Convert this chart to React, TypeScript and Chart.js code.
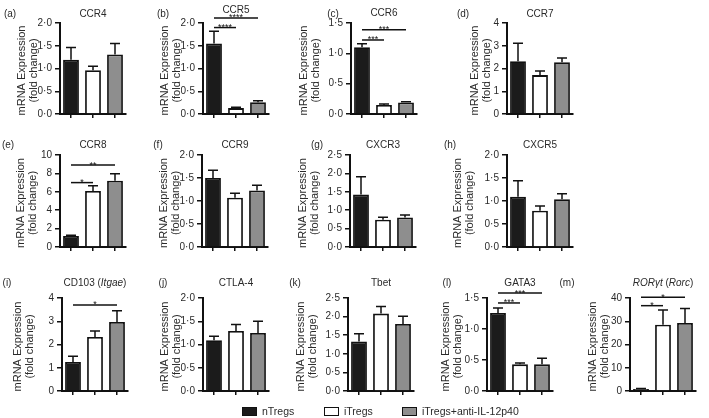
import React, { useEffect, useRef } from "react";
import { Chart, registerables } from "chart.js";
Chart.register(...registerables);

const groups = ["nTregs", "iTregs", "iTregs+anti-IL-12p40"];
const groupColors = ["#1b1b1b", "#ffffff", "#8e8e8e"];

const ccr4Mean = [1.19, 0.96, 1.31];
const ccr4Sem = [0.27, 0.09, 0.24];
const ccr5Mean = [1.55, 0.13, 0.26];
const ccr5Sem = [0.27, 0.02, 0.03];
const ccr6Mean = [1.1, 0.15, 0.19];
const ccr6Sem = [0.06, 0.015, 0.012];
const ccr7Mean = [2.32, 1.71, 2.28];
const ccr7Sem = [0.79, 0.18, 0.18];
const ccr8Mean = [1.2, 6.1, 7.2];
const ccr8Sem = [0.08, 0.55, 0.75];
const ccr9Mean = [1.5, 1.07, 1.23];
const ccr9Sem = [0.17, 0.1, 0.11];
const cxcr3Mean = [1.43, 0.74, 0.8];
const cxcr3Sem = [0.48, 0.07, 0.07];
const cxcr5Mean = [1.09, 0.79, 1.04];
const cxcr5Sem = [0.35, 0.1, 0.12];
const cd103Mean = [1.25, 2.32, 2.97];
const cd103Sem = [0.25, 0.26, 0.48];
const ctla4Mean = [1.09, 1.29, 1.25];
const ctla4Sem = [0.09, 0.14, 0.25];
const tbetMean = [1.33, 2.08, 1.8];
const tbetSem = [0.21, 0.19, 0.21];
const gata3Mean = [1.26, 0.43, 0.43];
const gata3Sem = [0.08, 0.02, 0.1];
const rorcMean = [0.9, 28.5, 29.3];
const rorcSem = [0.2, 6.3, 6.2];

// significance brackets: [from group, to group, level, label]
type Sig = [number, number, number, string];
const ccr5Sig: Sig[] = [[0, 1, 1.9, "****"], [0, 2, 2.11, "****"]];
const ccr6Sig: Sig[] = [[0, 1, 1.22, "***"], [0, 2, 1.39, "***"]];
const ccr8Sig: Sig[] = [[0, 1, 7.0, "*"], [0, 2, 8.9, "**"]];
const cd103Sig: Sig[] = [[0, 2, 3.7, "*"]];
const gata3Sig: Sig[] = [[0, 1, 1.42, "***"], [0, 2, 1.58, "***"]];
const rorcSig: Sig[] = [[0, 1, 36.7, "*"], [0, 2, 40.3, "*"]];

type Seg = [string, boolean];
interface Panel {
  letter: string;
  title: Seg[];
  mean: number[];
  sem: number[];
  max: number;
  step: number;
  decimals: number;
  sig: Sig[];
}

const panels: Panel[] = [
  { letter: "(a)", title: [["CCR4", false]], mean: ccr4Mean, sem: ccr4Sem, max: 2, step: 0.5, decimals: 1, sig: [] },
  { letter: "(b)", title: [["CCR5", false]], mean: ccr5Mean, sem: ccr5Sem, max: 2, step: 0.5, decimals: 1, sig: ccr5Sig },
  { letter: "(c)", title: [["CCR6", false]], mean: ccr6Mean, sem: ccr6Sem, max: 1.5, step: 0.5, decimals: 1, sig: ccr6Sig },
  { letter: "(d)", title: [["CCR7", false]], mean: ccr7Mean, sem: ccr7Sem, max: 4, step: 1, decimals: 0, sig: [] },
  { letter: "(e)", title: [["CCR8", false]], mean: ccr8Mean, sem: ccr8Sem, max: 10, step: 2, decimals: 0, sig: ccr8Sig },
  { letter: "(f)", title: [["CCR9", false]], mean: ccr9Mean, sem: ccr9Sem, max: 2, step: 0.5, decimals: 1, sig: [] },
  { letter: "(g)", title: [["CXCR3", false]], mean: cxcr3Mean, sem: cxcr3Sem, max: 2.5, step: 0.5, decimals: 1, sig: [] },
  { letter: "(h)", title: [["CXCR5", false]], mean: cxcr5Mean, sem: cxcr5Sem, max: 2, step: 0.5, decimals: 1, sig: [] },
  { letter: "(i)", title: [["CD103 (", false], ["Itgae", true], [")", false]], mean: cd103Mean, sem: cd103Sem, max: 4, step: 1, decimals: 0, sig: cd103Sig },
  { letter: "(j)", title: [["CTLA-4", false]], mean: ctla4Mean, sem: ctla4Sem, max: 2, step: 0.5, decimals: 1, sig: [] },
  { letter: "(k)", title: [["Tbet", false]], mean: tbetMean, sem: tbetSem, max: 2.5, step: 0.5, decimals: 1, sig: [] },
  { letter: "(l)", title: [["GATA3", false]], mean: gata3Mean, sem: gata3Sem, max: 1.5, step: 0.5, decimals: 1, sig: gata3Sig },
  { letter: "(m)", title: [["RORγt", true], [" (", false], ["Rorc", true], [")", false]], mean: rorcMean, sem: rorcSem, max: 40, step: 10, decimals: 0, sig: rorcSig },
];

// layout (pixels)
const rows = [
  { plotTop: 23, plotH: 91, titleY: 14 },
  { plotTop: 155, plotH: 92, titleY: 145 },
  { plotTop: 298, plotH: 93, titleY: 283 },
];
const places = [
  { row: 0, axisX: 60, letterX: 10, gap: 0, titleDy: 0 },
  { row: 0, axisX: 203, letterX: 163, gap: 0, titleDy: -4 },
  { row: 0, axisX: 351, letterX: 333, gap: 9, titleDy: -1 },
  { row: 0, axisX: 507, letterX: 463, gap: 2, titleDy: 0 },
  { row: 1, axisX: 60, letterX: 8, gap: 4, titleDy: 0 },
  { row: 1, axisX: 202, letterX: 158, gap: 0, titleDy: 0 },
  { row: 1, axisX: 350, letterX: 317, gap: 9, titleDy: 0 },
  { row: 1, axisX: 507, letterX: 450, gap: 11, titleDy: 0 },
  { row: 2, axisX: 62, letterX: 7, gap: 14, titleDy: 0 },
  { row: 2, axisX: 203, letterX: 163, gap: 0, titleDy: 0 },
  { row: 2, axisX: 348, letterX: 295, gap: 9, titleDy: 0 },
  { row: 2, axisX: 487, letterX: 447, gap: 3, titleDy: 0 },
  { row: 2, axisX: 630, letterX: 567, gap: 2, titleDy: 0 },
];

const FONT = '"Liberation Sans", Arial, Helvetica, sans-serif';
const TEXT = "#2a2a2a";
const INK = "#111111";
const LEFT_SPACE = 80;
const YSCALE_W = 22;
const PLOT_W = 66;
const CANVAS_W = LEFT_SPACE + PLOT_W + 4;
const TOP_SPACE = 23;
const TICK_FONT = 10;
const YTITLE_FONT = 11;

function fmt(v: number, d: number) {
  return d === 0 ? String(Math.round(v)) : v.toFixed(d).replace(".", "·");
}

function PanelChart({ p, pl }: { p: Panel; pl: (typeof places)[number] }) {
  const ref = useRef<HTMLCanvasElement>(null);
  const row = rows[pl.row];
  const left = pl.axisX - LEFT_SPACE;
  const top = row.plotTop - TOP_SPACE;
  const height = TOP_SPACE + row.plotH + 10;

  useEffect(() => {
    const extras = {
      id: "extras",
      afterDraw(chart: any) {
        const ctx = chart.ctx as CanvasRenderingContext2D;
        const ys = chart.scales.y;
        const meta = chart.getDatasetMeta(0);
        const area = chart.chartArea;
        ctx.save();
        // error bars
        ctx.strokeStyle = INK;
        ctx.lineWidth = 1.5;
        p.mean.forEach((m, i) => {
          const bar = meta.data[i];
          const x = bar.x;
          const y0 = ys.getPixelForValue(m);
          const y1 = ys.getPixelForValue(m + p.sem[i]);
          ctx.beginPath();
          ctx.moveTo(x, y0);
          ctx.lineTo(x, y1);
          ctx.moveTo(x - 5, y1);
          ctx.lineTo(x + 5, y1);
          ctx.stroke();
        });
        // significance
        p.sig.forEach(([a, b, lvl, lab]) => {
          const x1 = meta.data[a].x;
          const x2 = meta.data[b].x;
          const y = ys.getPixelForValue(lvl);
          ctx.beginPath();
          ctx.moveTo(x1, y);
          ctx.lineTo(x2, y);
          ctx.stroke();
          ctx.fillStyle = INK;
          ctx.font = `9px ${FONT}`;
          ctx.textAlign = "center";
          ctx.textBaseline = "alphabetic";
          ctx.fillText(lab, (x1 + x2) / 2, y + 2.5);
        });
        // panel letter
        ctx.fillStyle = TEXT;
        ctx.textBaseline = "middle";
        ctx.textAlign = "center";
        ctx.font = `10px ${FONT}`;
        ctx.fillText(p.letter, pl.letterX - left, row.titleY - top);
        // title with italic segments
        const widths = p.title.map(([t, it]) => {
          ctx.font = `${it ? "italic " : ""}10px ${FONT}`;
          return ctx.measureText(t).width;
        });
        const total = widths.reduce((s, w) => s + w, 0);
        let tx = (area.left + area.right) / 2 - total / 2;
        ctx.textAlign = "left";
        p.title.forEach(([t, it], k) => {
          ctx.font = `${it ? "italic " : ""}10px ${FONT}`;
          ctx.fillText(t, tx, row.titleY - top + pl.titleDy);
          tx += widths[k];
        });
        // y-axis title placed left of the widest tick label
        ctx.font = `${TICK_FONT}px ${FONT}`;
        const labW = Math.max(...ys.ticks.map((t: any) => ctx.measureText(fmt(t.value, p.decimals)).width));
        const x2 = area.left - 8 - labW - 4 - pl.gap;
        const x1 = x2 - 12;
        const cy = (area.top + area.bottom) / 2 + 2;
        ctx.font = `${YTITLE_FONT}px ${FONT}`;
        ctx.textAlign = "center";
        [["mRNA Expression", x1], ["(fold change)", x2]].forEach(([t, x]: any) => {
          ctx.save();
          ctx.translate(x, cy);
          ctx.rotate(-Math.PI / 2);
          ctx.fillText(t, 0, 0);
          ctx.restore();
        });
        ctx.restore();
      },
    };

    const chart = new Chart(ref.current!, {
      type: "bar",
      data: {
        labels: groups,
        datasets: [
          {
            data: p.mean,
            backgroundColor: groupColors,
            borderColor: INK,
            borderWidth: 1.8,
            barPercentage: 0.72,
            categoryPercentage: 1,
          },
        ],
      },
      options: {
        responsive: false,
        animation: false,
        events: [],
        layout: { padding: { left: LEFT_SPACE - YSCALE_W, top: TOP_SPACE, right: CANVAS_W - LEFT_SPACE - PLOT_W, bottom: 2 } },
        plugins: { legend: { display: false }, tooltip: { enabled: false }, title: { display: false } },
        scales: {
          x: {
            grid: { display: true, offset: false, drawOnChartArea: false, drawTicks: true, tickLength: 4, lineWidth: 1.5, tickWidth: 1.5, tickColor: INK, color: INK },
            border: { display: true, color: INK, width: 2 },
            ticks: { display: false },
            afterFit: (s: any) => { s.height = 8; },
          },
          y: {
            min: 0,
            max: p.max,
            ticks: {
              stepSize: p.step,
              color: TEXT,
              padding: 3,
              font: { family: FONT, size: TICK_FONT },
              callback: (v: any) => fmt(Number(v), p.decimals),
            },
            grid: { display: true, drawOnChartArea: false, drawTicks: true, tickLength: 5, lineWidth: 1.5, tickWidth: 1.5, tickColor: INK, color: INK },
            border: { display: true, color: INK, width: 2 },
            afterFit: (s: any) => { s.width = YSCALE_W; },
          },
        },
      },
      plugins: [extras],
    } as any);
    return () => chart.destroy();
  }, []);

  return (
    <canvas
      ref={ref}
      width={CANVAS_W}
      height={height}
      style={{ position: "absolute", left, top, width: CANVAS_W, height }}
    />
  );
}

const legendX = [242, 324, 402];

export default function App() {
  return (
    <div style={{ position: "absolute", left: 0, top: 0, width: 709, height: 418, background: "#fff", overflow: "hidden" }}>
      {panels.map((p, i) => (
        <PanelChart key={i} p={p} pl={places[i]} />
      ))}
      {groups.map((g, i) => (
        <div
          key={g}
          style={{ position: "absolute", left: legendX[i], top: 405, height: 12, display: "flex", alignItems: "center", fontFamily: FONT, fontSize: 10.5, color: TEXT, whiteSpace: "nowrap" }}
        >
          <span style={{ display: "inline-block", width: 13, height: 7, background: groupColors[i], border: `1.5px solid ${INK}`, marginRight: 5 }} />
          {g}
        </div>
      ))}
    </div>
  );
}
